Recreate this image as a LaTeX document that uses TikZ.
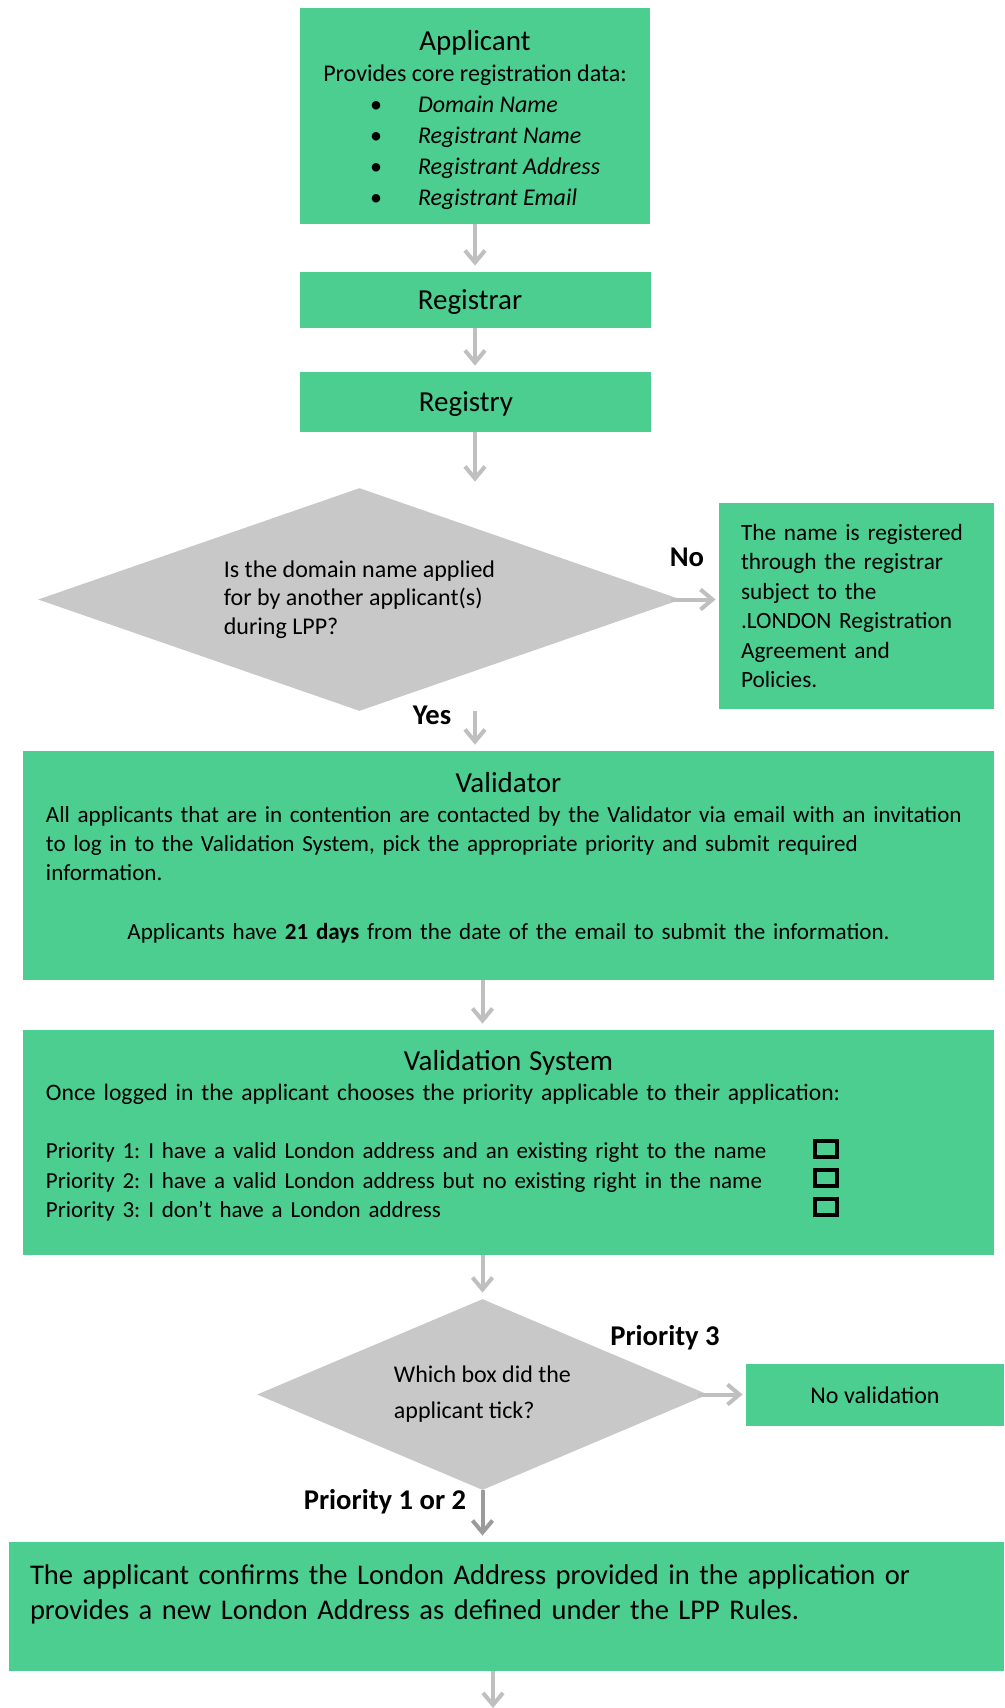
\documentclass[tikz,border=0pt]{standalone}
\usepackage{fontspec}
\setmainfont{Carlito}
\usetikzlibrary{shapes.geometric,arrows.meta,positioning}
\definecolor{boxgreen}{RGB}{76,206,145}
\definecolor{askgray}{RGB}{200,200,200}
\definecolor{linegray}{RGB}{191,191,191}
\definecolor{arrowdark}{RGB}{155,155,155}
\frenchspacing
\tikzset{>={Straight Barb[length=6pt,width=10pt]}, font=\fontsize{12}{14.7}\selectfont}
\tikzstyle{block} = [fill=boxgreen, rectangle, inner sep=0pt, text centered, align=center]
\tikzstyle{decision} = [fill=askgray, diamond, inner sep=0pt, align=left]
\tikzstyle{flow} = [draw=linegray, line width=2pt, ->, shorten >=3pt]
\tikzstyle{answer} = [font=\fontsize{14.3}{16}\selectfont\bfseries, inner sep=0pt]
\tikzstyle{tickbox} = [draw=black, line width=1.75pt, minimum width=11pt, minimum height=8pt, inner sep=0pt]
\newcommand{\headsize}{\fontsize{14.5}{16}\selectfont}
\newcommand{\bulletline}[1]{\makebox[122pt][l]{\hspace{8.5pt}\makebox[24pt][l]{\textbullet}\textit{#1}}}

\begin{document}
\begin{tikzpicture}[x=0.5pt,y=-0.5pt]
	\useasboundingbox (0,0) rectangle (1005,1708);
	\node [block, minimum width=175pt, minimum height=108pt, font=\fontsize{12}{15.5}\selectfont] (applicant) at (475,116) {{\headsize\rule{0pt}{14pt}Applicant}\\Provides core registration data:\\\bulletline{Domain Name}\\\bulletline{Registrant Name}\\\bulletline{Registrant Address}\\\bulletline{Registrant Email}};
	\node [block, minimum width=175.5pt, minimum height=28pt, text depth=0pt, font=\headsize] (registrar) at (475,300) {Registrar\hspace*{5pt}};
	\node [block, minimum width=175.5pt, minimum height=30pt, text depth=0pt, font=\headsize] (registry) at (475,402) {Registry\hspace*{9pt}};
	\node [decision, shape aspect=2.88, minimum width=321.5pt, minimum height=111.5pt, font=\fontsize{12}{14.3}\selectfont] (question) at (359.5,599.5) {Is the domain name applied\\for by another applicant(s)\\during LPP?};
	\node [block, minimum width=137.5pt, minimum height=103pt, text width=115.5pt, align=left, font=\fontsize{11.65}{14.7}\selectfont] (registered) at (856.5,606) {The name is registered\\through the registrar\\subject to the\\.LONDON Registration\\Agreement and\\Policies.};
	\node [block, minimum width=485.5pt, minimum height=114.5pt, text width=462.5pt, align=left, font=\fontsize{11.55}{14.7}\selectfont] (validator) at (508.5,865.5) {{\centering\headsize Validator\par}
		All applicants that are in contention are contacted by the Validator via email with an invitation\\to log in to the Validation System, pick the appropriate priority and submit required\\information.\par
		\vspace{14.7pt}
		{\centering Applicants have \textbf{21 days} from the date of the email to submit the information.\par}
		\vskip 7.6pt\hrule height 0pt};
	\node [block, minimum width=485.5pt, minimum height=112.5pt, text width=462.5pt, align=left, font=\fontsize{11.8}{14.7}\selectfont] (system) at (508.5,1142.5) {{\centering\headsize Validation System\par}
		Once logged in the applicant chooses the priority applicable to their application:\par
		\vspace{14.7pt}
		{\fontsize{11.5}{14.7}\selectfont
		Priority 1: I have a valid London address and an existing right to the name\\
		Priority 2: I have a valid London address but no existing right in the name\\
		Priority 3: I don’t have a London address\par}
		\vskip 6.5pt\hrule height 0pt};
	\node [tickbox] (prio1) at (826,1149) {};
	\node [tickbox] (prio2) at (826,1178) {};
	\node [tickbox] (prio3) at (826,1207) {};
	\node [decision, shape aspect=2.36, minimum width=225.5pt, minimum height=95.5pt, font=\fontsize{12}{18}\selectfont] (tick) at (482.5,1394.5) {Which box did the\\applicant tick?};
	\node [block, minimum width=129pt, minimum height=31pt] (novalidation) at (875,1395) {No validation};
	\node [block, minimum width=497.5pt, minimum height=64.5pt, text width=476.5pt, align=left, font=\fontsize{14.27}{17.5}\selectfont] (confirm) at (506.5,1606.5) {The applicant confirms the London Address provided in the application or\\provides a new London Address as defined under the LPP Rules.\par
		\vskip 12pt\hrule height 0pt};
	\coordinate (out) at (493,1714);

	\node [answer] (no) at (687,557) {No};
	\node [answer] (yes) at (432,715) {Yes};
	\node [answer] (prio3label) at (665,1338) {Priority 3};
	\node [answer] (prio12label) at (385,1502) {Priority 1 or 2};

	\draw [flow] (applicant) -- (registrar);
	\draw [flow] (registrar) -- (registry);
	\draw [flow] (registry) -- (registry |- question.north);
	\draw [flow, shorten >=1.5pt, shorten <=-5pt] (question.east) -- (question.east -| registered.west);
	\draw [flow] (question.south -| registry) -- (validator.north -| registry);
	\draw [flow] (tick.north |- validator.south) -- (tick.north |- system.north);
	\draw [flow] (tick.north |- system.south) -- (tick.north);
	\draw [flow, shorten >=1.5pt, shorten <=-5pt] (tick.east) -- (tick.east -| novalidation.west);
	\draw [flow, draw=arrowdark] (tick.south) -- (tick.south |- confirm.north);
	\draw [flow] (confirm.south -| out) -- (out);
\end{tikzpicture}
\end{document}
